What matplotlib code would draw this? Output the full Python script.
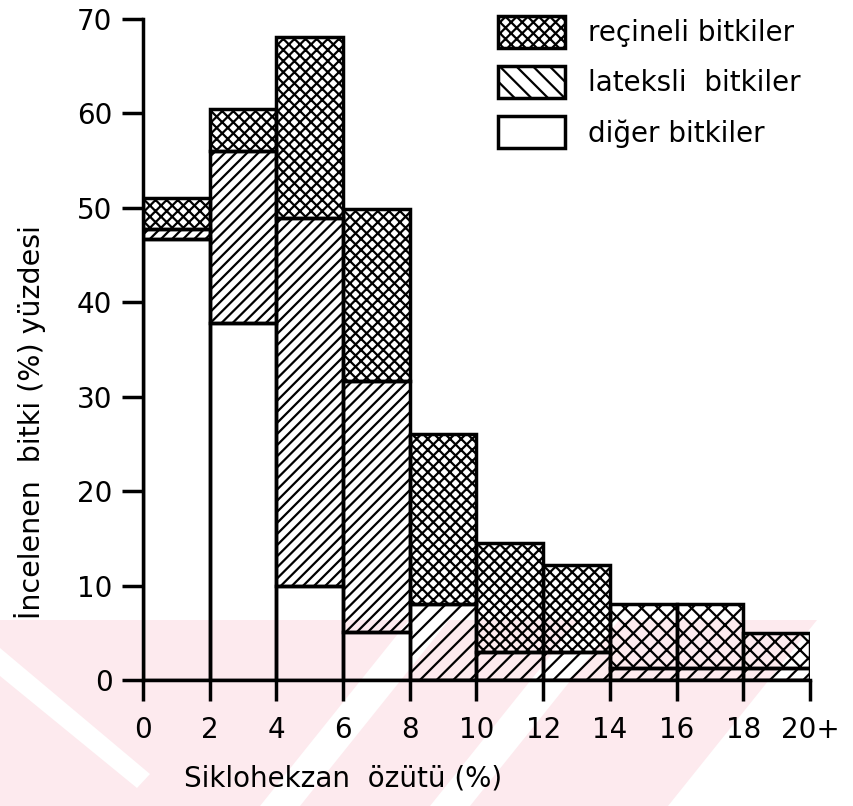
import numpy as np
import matplotlib
matplotlib.use("Agg")
import matplotlib.pyplot as plt
from matplotlib.patches import Patch, Polygon

# bins of cyclohexane extract (%), left edges, width 2
bin_left = [0, 2, 4, 6, 8, 10, 12, 14, 16, 18]
tick_pos = [0, 2, 4, 6, 8, 10, 12, 14, 16, 18, 20]
tick_lab = ["0", "2", "4", "6", "8", "10", "12", "14", "16", "18", "20+"]

# percentage of examined plants, stacked
diger = [46.7, 37.8, 10.0, 5.1, 0, 0, 0, 0, 0, 0]
lateksli = [1.1, 18.2, 38.9, 26.6, 8.0, 3.0, 3.0, 1.3, 1.3, 1.3]
recineli = [3.2, 4.5, 19.2, 18.2, 18.0, 11.5, 9.2, 6.8, 6.8, 3.7]

labels = ["reçineli bitkiler", "lateksli  bitkiler", "diğer bitkiler"]

plt.rcParams["hatch.linewidth"] = 1.6
plt.rcParams["font.family"] = "DejaVu Sans"

W, H = 854, 806
fig = plt.figure(figsize=(W/100, H/100), dpi=100)

# faint pink watermark behind the chart (image pixel coords -> figure fraction)
def fpoly(pts, color):
    pts = [(x/W, 1-y/H) for x, y in pts]
    fig.add_artist(Polygon(pts, closed=True, transform=fig.transFigure,
                           facecolor=color, edgecolor="none", zorder=-5))

pink = "#fdeaee"
fpoly([(0, 620), (409, 620), (260, 806), (0, 806)], pink)
fpoly([(449, 620), (579, 620), (430, 806), (300, 806)], pink)
fpoly([(619, 620), (817, 620), (668, 806), (470, 806)], pink)
fpoly([(0, 648), (150, 774), (137, 788), (0, 676)], "white")

ax = fig.add_axes([143/W, 1-680/H, (810-143)/W, (680-19)/H])
ax.patch.set_alpha(0)

lw = 2.5
diger = np.array(diger)
lateksli = np.array(lateksli)
recineli = np.array(recineli)
lat_hatch = ["///" if x < 8 else "//" for x in bin_left]
res_hatch = ["xxx" if x < 14 else "xx" for x in bin_left]

ax.bar(bin_left, diger, width=2, align="edge", color="none",
       edgecolor="black", linewidth=lw)
for i, x in enumerate(bin_left):
    ax.bar(x, lateksli[i], width=2, bottom=diger[i], align="edge",
           color="none", edgecolor="black", linewidth=lw, hatch=lat_hatch[i])
    ax.bar(x, recineli[i], width=2, bottom=diger[i] + lateksli[i], align="edge",
           color="none", edgecolor="black", linewidth=lw, hatch=res_hatch[i])

ax.set_xlim(0, 20)
ax.set_ylim(0, 70)
ax.set_xticks(tick_pos)
ax.set_xticklabels(tick_lab)
ax.set_yticks(range(0, 71, 10))
for s in ["top", "right"]:
    ax.spines[s].set_visible(False)
for s in ["left", "bottom"]:
    ax.spines[s].set_linewidth(lw)
ax.tick_params(axis="both", length=15, width=lw, labelsize=20)
ax.tick_params(axis="x", pad=11)
ax.tick_params(axis="y", pad=7)

handles = [
    Patch(facecolor="white", edgecolor="black", linewidth=lw, hatch="xxx"),
    Patch(facecolor="white", edgecolor="black", linewidth=lw, hatch="\\\\"),
    Patch(facecolor="white", edgecolor="black", linewidth=lw),
]
fig.legend(handles, labels, loc="upper left", bbox_to_anchor=(498/W, 1-16/H),
           frameon=False, fontsize=20, handlelength=2.4, handleheight=1.4,
           labelspacing=0.65, handletextpad=0.83, borderpad=0, borderaxespad=0)

fig.text(30/W, 1-422/H, "İncelenen  bitki (%) yüzdesi", rotation=90,
         ha="center", va="center", fontsize=20.5)
fig.text(343/W, 1-778/H, "Siklohekzan  özütü (%)", ha="center",
         va="center", fontsize=20)

fig.savefig("out.png", dpi=100)
